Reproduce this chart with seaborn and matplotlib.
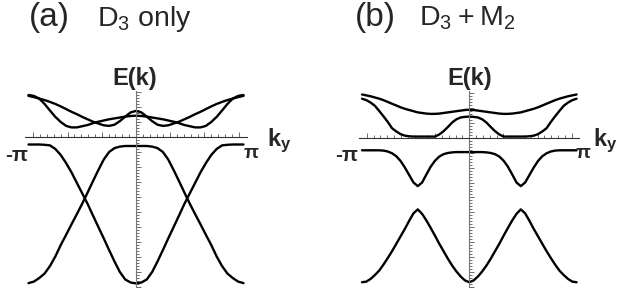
import numpy as np
import pandas as pd
import matplotlib.pyplot as plt
import seaborn as sns

# band energies, panel (a): D3 only  (k in units of pi)
K_A = [-1.00, -0.95, -0.90, -0.85, -0.80, -0.75, -0.70, -0.65, -0.60, -0.55, -0.50,
       -0.45, -0.40, -0.35, -0.30, -0.25, -0.20, -0.15, -0.10, -0.05, 0.00,
       0.05, 0.10, 0.15, 0.20, 0.25, 0.30, 0.35, 0.40, 0.45, 0.50,
       0.55, 0.60, 0.65, 0.70, 0.75, 0.80, 0.85, 0.90, 0.95, 1.00]

A_UP1 = [1.40, 1.37, 1.28, 1.10, 0.88, 0.67, 0.50, 0.37, 0.32, 0.32, 0.36,
         0.40, 0.46, 0.51, 0.55, 0.59, 0.62, 0.65, 0.68, 0.70, 0.71,
         0.70, 0.68, 0.65, 0.62, 0.59, 0.55, 0.51, 0.46, 0.40, 0.36,
         0.32, 0.32, 0.37, 0.50, 0.67, 0.88, 1.10, 1.28, 1.37, 1.40]
A_UP2 = [1.37, 1.33, 1.28, 1.23, 1.17, 1.10, 1.02, 0.93, 0.84, 0.76, 0.67,
         0.59, 0.51, 0.45, 0.39, 0.37, 0.41, 0.53, 0.68, 0.82, 0.87,
         0.82, 0.68, 0.53, 0.41, 0.37, 0.39, 0.45, 0.51, 0.59, 0.67,
         0.76, 0.84, 0.93, 1.02, 1.10, 1.17, 1.23, 1.28, 1.33, 1.37]
A_LO1 = [-4.87, -4.82, -4.70, -4.55, -4.30, -3.98, -3.60, -3.26, -2.91, -2.57, -2.22,
         -1.85, -1.47, -1.10, -0.75, -0.50, -0.37, -0.32, -0.30, -0.30, -0.30,
         -0.30, -0.30, -0.32, -0.37, -0.50, -0.75, -1.10, -1.47, -1.85, -2.22,
         -2.57, -2.91, -3.26, -3.60, -3.98, -4.30, -4.55, -4.70, -4.82, -4.87]
A_LO2 = [-0.25, -0.25, -0.25, -0.26, -0.28, -0.40, -0.60, -0.87, -1.18, -1.53, -1.88,
         -2.23, -2.62, -3.00, -3.38, -3.77, -4.15, -4.50, -4.75, -4.85, -4.88,
         -4.85, -4.75, -4.50, -4.15, -3.77, -3.38, -3.00, -2.62, -2.23, -1.88,
         -1.53, -1.18, -0.87, -0.60, -0.40, -0.28, -0.26, -0.25, -0.25, -0.25]

# band energies, panel (b): D3 + M2
K_B = [-1.00, -0.96, -0.92, -0.88, -0.84, -0.80, -0.76, -0.72, -0.68, -0.64, -0.60, -0.56, -0.52,
       -0.48, -0.44, -0.40, -0.36, -0.32, -0.28, -0.24, -0.20, -0.16, -0.12, -0.08, -0.04, 0.00,
       0.04, 0.08, 0.12, 0.16, 0.20, 0.24, 0.28, 0.32, 0.36, 0.40, 0.44, 0.48,
       0.52, 0.56, 0.60, 0.64, 0.68, 0.72, 0.76, 0.80, 0.84, 0.88, 0.92, 0.96, 1.00]

B_UP1 = [1.45, 1.42, 1.39, 1.35, 1.31, 1.26, 1.20, 1.14, 1.08, 1.02, 0.97, 0.93, 0.89,
         0.85, 0.83, 0.81, 0.80, 0.80, 0.81, 0.83, 0.85, 0.87, 0.89, 0.91, 0.93, 0.94,
         0.93, 0.91, 0.89, 0.87, 0.85, 0.83, 0.81, 0.80, 0.80, 0.81, 0.83, 0.85,
         0.89, 0.93, 0.97, 1.02, 1.08, 1.14, 1.20, 1.26, 1.31, 1.35, 1.39, 1.42, 1.45]
B_UP2 = [1.31, 1.26, 1.18, 1.07, 0.90, 0.72, 0.53, 0.32, 0.21, 0.12, 0.07, 0.05, 0.04,
         0.04, 0.04, 0.04, 0.04, 0.04, 0.11, 0.22, 0.36, 0.51, 0.62, 0.68, 0.70, 0.71,
         0.70, 0.68, 0.62, 0.51, 0.36, 0.22, 0.11, 0.04, 0.04, 0.04, 0.04, 0.04,
         0.04, 0.05, 0.07, 0.12, 0.21, 0.32, 0.53, 0.72, 0.90, 1.07, 1.18, 1.26, 1.31]
B_LO1 = [-0.42, -0.42, -0.42, -0.42, -0.42, -0.43, -0.46, -0.52, -0.62, -0.78, -1.00, -1.25, -1.50,
         -1.62, -1.50, -1.23, -0.97, -0.77, -0.63, -0.55, -0.51, -0.49, -0.48, -0.48, -0.48, -0.48,
         -0.48, -0.48, -0.48, -0.49, -0.51, -0.55, -0.63, -0.77, -0.97, -1.23, -1.50, -1.62,
         -1.50, -1.25, -1.00, -0.78, -0.62, -0.52, -0.46, -0.43, -0.42, -0.42, -0.42, -0.42, -0.42]
B_LO2 = [-4.84, -4.82, -4.73, -4.60, -4.45, -4.25, -4.03, -3.80, -3.55, -3.30, -3.05, -2.78, -2.53,
         -2.40, -2.55, -2.77, -3.02, -3.28, -3.55, -3.80, -4.05, -4.28, -4.48, -4.65, -4.78, -4.84,
         -4.78, -4.65, -4.48, -4.28, -4.05, -3.80, -3.55, -3.28, -3.02, -2.77, -2.55, -2.40,
         -2.53, -2.78, -3.05, -3.30, -3.55, -3.80, -4.03, -4.25, -4.45, -4.60, -4.73, -4.82, -4.84]

W, H = 621, 292
PX_PER_E = 30.0


def px(x, y):
    # figure pixel -> figure fraction
    return x / W, 1 - y / H


def make_panel(fig, k, bands, x0, x1, kx0, y_top, y_zero, y_bot):
    # axes placed so that k=-1..1 spans x0..x1 pixels and E=0 sits at y_zero
    half = (x1 - x0) / 2
    xl = x0 + kx0[0] * half + half
    xr = x0 + kx0[1] * half + half
    ax = fig.add_axes([xl / W, 1 - y_bot / H, (xr - xl) / W, (y_bot - y_top) / H])
    ax.set_xlim(kx0)
    ax.set_ylim((y_zero - y_bot) / PX_PER_E, (y_zero - y_top) / PX_PER_E)

    df = pd.DataFrame({'k': np.tile(k, len(bands)),
                       'E': np.concatenate(bands),
                       'band': np.repeat(np.arange(len(bands)), len(k))})
    sns.lineplot(data=df, x='k', y='E', units='band', estimator=None,
                 color='black', lw=1.7, ax=ax, sort=False)

    ax.set_facecolor('none')
    for s in ['top', 'right']:
        ax.spines[s].set_visible(False)
    ax.spines['bottom'].set_position(('data', 0))
    ax.spines['left'].set_position(('data', 0))
    ax.spines['bottom'].set_color('#333333')
    ax.spines['left'].set_color('#777777')
    ax.spines['bottom'].set_linewidth(0.8)
    ax.spines['left'].set_linewidth(0.8)

    # Mathematica-style ticks: major at integer k, minor every 0.2 (k in units of pi here)
    ax.set_xticks(np.arange(-3, 4) / np.pi)
    ax.set_xticks(np.arange(-15, 16) * 0.2 / np.pi, minor=True)
    ax.set_yticks(np.arange(-10, 4) * 0.5)
    ax.set_yticks(np.arange(-50, 16) * 0.1, minor=True)
    ax.tick_params(which='both', direction='in', bottom=True, left=True,
                   labelbottom=False, labelleft=False, color='#555555', width=0.6)
    ax.tick_params(which='major', length=3.5)
    ax.tick_params(which='minor', length=2.0)
    ax.set_xlabel('')
    ax.set_ylabel('')
    return ax


sns.set_style('white')
plt.rcParams['font.family'] = ['Liberation Sans', 'DejaVu Sans']
plt.rcParams['mathtext.default'] = 'regular'

fig = plt.figure(figsize=(W / 100, H / 100), dpi=100)

make_panel(fig, K_A, [A_UP1, A_UP2, A_LO1, A_LO2],
           28.5, 243.5, (-1.03, 1.03), 91, 137, 287)
make_panel(fig, K_B, [B_UP1, B_UP2, B_LO1, B_LO2],
           362.0, 576.6, (-1.025, 1.02), 90.7, 138, 287)

# panel titles
fig.text(*px(29, 26), '(a)', fontsize=24, va='baseline')
fig.text(*px(97, 26), r'$D_3$ only', fontsize=20.5, va='baseline')
fig.text(*px(355, 26), '(b)', fontsize=24, va='baseline')
fig.text(*px(419, 26), r'$D_3 + M_2$', fontsize=20.5, va='baseline')

# axis labels
for xc, xk, xl, xr in [(135, 267, 28, 244), (469.3, 593, 358, 576)]:
    fig.text(*px(xc, 85), 'E(k)', fontsize=17, fontweight='bold', ha='center', va='baseline')
    fig.text(*px(xk, 146), r'$k_y$', fontsize=17, fontweight='bold', va='baseline')
    fig.text(*px(xl, 161), '-π', fontsize=15, fontweight='bold', ha='right', va='baseline')
    fig.text(*px(xr, 158), 'π', fontsize=14, fontweight='bold', ha='left', va='baseline')

fig.savefig('out.png', dpi=100)
